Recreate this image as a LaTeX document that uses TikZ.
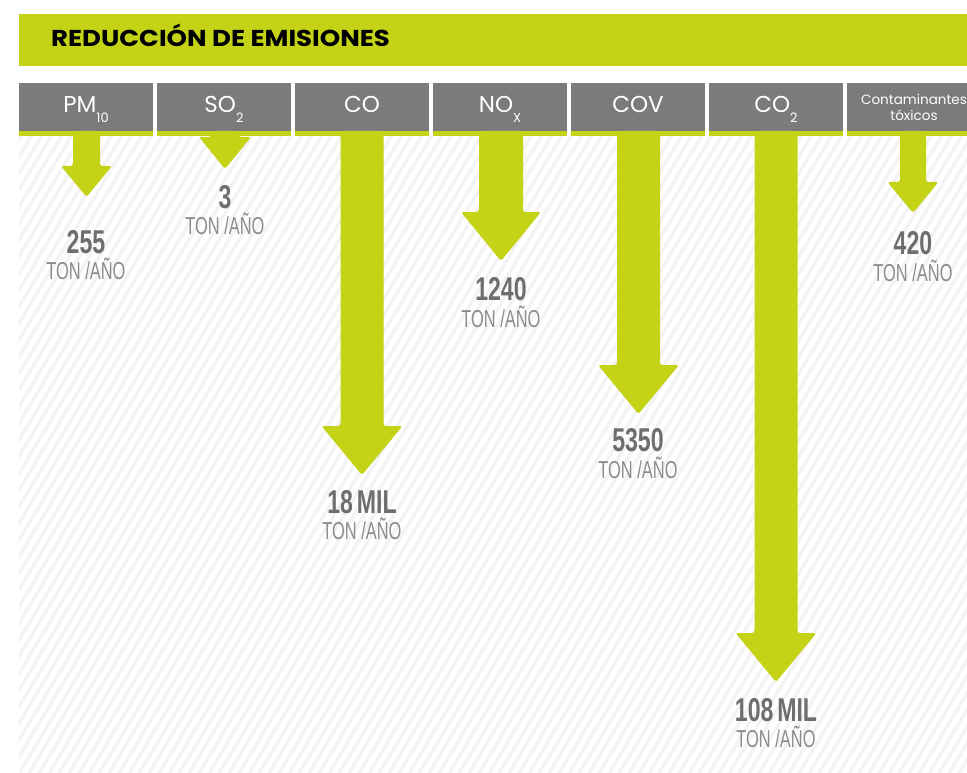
\documentclass[tikz,border=0pt]{standalone}
\usepackage{fontspec}
\usepackage{graphicx}
\setmainfont{Liberation Sans}
\newfontfamily\gotica{Poppins}
\usetikzlibrary{positioning,calc}

\definecolor{lima}{HTML}{C4D316}
\definecolor{grisCab}{HTML}{7B7B7B}
\definecolor{grisCifra}{HTML}{6E6E6E}
\definecolor{grisUnidad}{HTML}{8C8C8C}
\definecolor{grisFondo}{HTML}{F3F3F3}

\newcommand{\bajo}[1]{\raisebox{-0.4em}{\fontsize{13}{13}\selectfont #1}}
\newcommand{\cifrat}[1]{\scalebox{0.7}[1]{#1}}
\newcommand{\tonano}{\scalebox{0.67}[1]{TON /AÑO}}

% flecha gruesa: cabecera, punta, medio tallo, media cabeza, alto cabeza
\newcommand{\flechagruesa}[5]{%
  \fill[flecha] ($(#2 |- #1.south)+(-#3,0)$) -- ($(#2)+(-#3,-#5)$) -- ($(#2)+(-#4,-#5)$) -- (#2)
    -- ($(#2)+(#4,-#5)$) -- ($(#2)+(#3,-#5)$) -- ($(#2 |- #1.south)+(#3,0)$) -- cycle;}

\tikzstyle{titulo} = [anchor=west, inner sep=0pt, 
text height=16pt, 
text depth=0pt, 
font=\gotica\bfseries\fontsize{23}{23}\selectfont]
\tikzstyle{cabeza} = [rectangle, 
minimum width=134pt, 
minimum height=48pt, 
inner sep=0pt, 
outer sep=0pt, 
text height=16pt, 
text depth=4pt, 
text=white, 
fill=grisCab, 
font=\gotica\fontsize{23}{23}\selectfont]
\tikzstyle{cabezachica} = [cabeza, 
text height=, 
text depth=, 
align=center, 
font=\gotica\fontsize{13.5}{16}\selectfont]
\tikzstyle{cifra} = [inner sep=0pt, 
text height=23pt, 
text depth=0pt, 
text=grisCifra, 
font=\bfseries\fontsize{33}{33}\selectfont]
\tikzstyle{unidad} = [inner sep=0pt, 
text height=17pt, 
text depth=0pt, 
text=grisUnidad, 
font=\fontsize{24.5}{24.5}\selectfont]
\tikzstyle{flecha} = [fill=lima, rounded corners=2.5pt]

\begin{document}
\begin{tikzpicture}[x=1pt, y=-1pt]
\useasboundingbox (0,0) rectangle (967,773);
\clip (0,0) rectangle (967,773);

% fondo rayado
\begin{scope}
\clip (19,136) rectangle (967,773);
\fill[grisFondo] (19,136) rectangle (967,773);
\foreach \x in {-400,-390,...,980}
  \draw[white, line width=5pt] (\x,780) -- ++(390,-650);
\end{scope}

% titulo
\fill[lima] (19,14) rectangle (980,66);
\node (tit) [titulo] at (51,39) {\scalebox{1.13}[1]{REDUCCIÓN DE EMISIONES}};

% cabeceras
\node (pm) [cabeza] at (86,107) {PM\bajo{10}};
\node (so) [cabeza, right=4pt of pm] {SO\bajo{2}};
\node (co) [cabeza, right=4pt of so] {CO};
\node (nox) [cabeza, right=4pt of co] {NO\bajo{X}};
\node (cov) [cabeza, right=4pt of nox] {COV};
\node (cotwo) [cabeza, right=4pt of cov] {CO\bajo{2}};
\node (tox) [cabezachica, right=4pt of cotwo] {Contaminantes\\tóxicos};

% puntas
\coordinate (t-pm) at (86.5,197);
\coordinate (t-so) at (225,169);
\coordinate (t-co) at (362,475);
\coordinate (t-nox) at (501,261);
\coordinate (t-cov) at (638.5,414);
\coordinate (t-cotwo) at (776,682);
\coordinate (t-tox) at (913,213);

\flechagruesa{pm}{t-pm}{13.5}{25.5}{31}
\flechagruesa{so}{t-so}{13.5}{26}{32}
\flechagruesa{co}{t-co}{21.5}{40.5}{49}
\flechagruesa{nox}{t-nox}{22}{40}{49}
\flechagruesa{cov}{t-cov}{21.5}{40.5}{49}
\flechagruesa{cotwo}{t-cotwo}{21.5}{40.5}{49}
\flechagruesa{tox}{t-tox}{13}{25.5}{31}

\foreach \h in {pm,so,co,nox,cov,cotwo,tox}
  \fill[lima] (\h.south west) rectangle ($(\h.south east)+(0,5)$);

% cifras
\node (v-pm) [cifra] at (86,241.5) {\cifrat{255}};
\node (u-pm) [unidad, below=9.5pt of v-pm] {\tonano};
\node (v-so) [cifra] at (225,196.5) {\cifrat{3}};
\node (u-so) [unidad, below=9.5pt of v-so] {\tonano};
\node (v-co) [cifra] at (362,501.5) {\cifrat{18\,MIL}};
\node (u-co) [unidad, below=9.5pt of v-co] {\tonano};
\node (v-nox) [cifra] at (501,289) {\cifrat{1240}};
\node (u-nox) [unidad, below=9.5pt of v-nox] {\tonano};
\node (v-cov) [cifra] at (638,440) {\cifrat{5350}};
\node (u-cov) [unidad, below=9.5pt of v-cov] {\tonano};
\node (v-cotwo) [cifra] at (776,709.5) {\cifrat{108\,MIL}};
\node (u-cotwo) [unidad, below=9.5pt of v-cotwo] {\tonano};
\node (v-tox) [cifra] at (913,243) {\cifrat{420}};
\node (u-tox) [unidad, below=9.5pt of v-tox] {\tonano};
\end{tikzpicture}
\end{document}
